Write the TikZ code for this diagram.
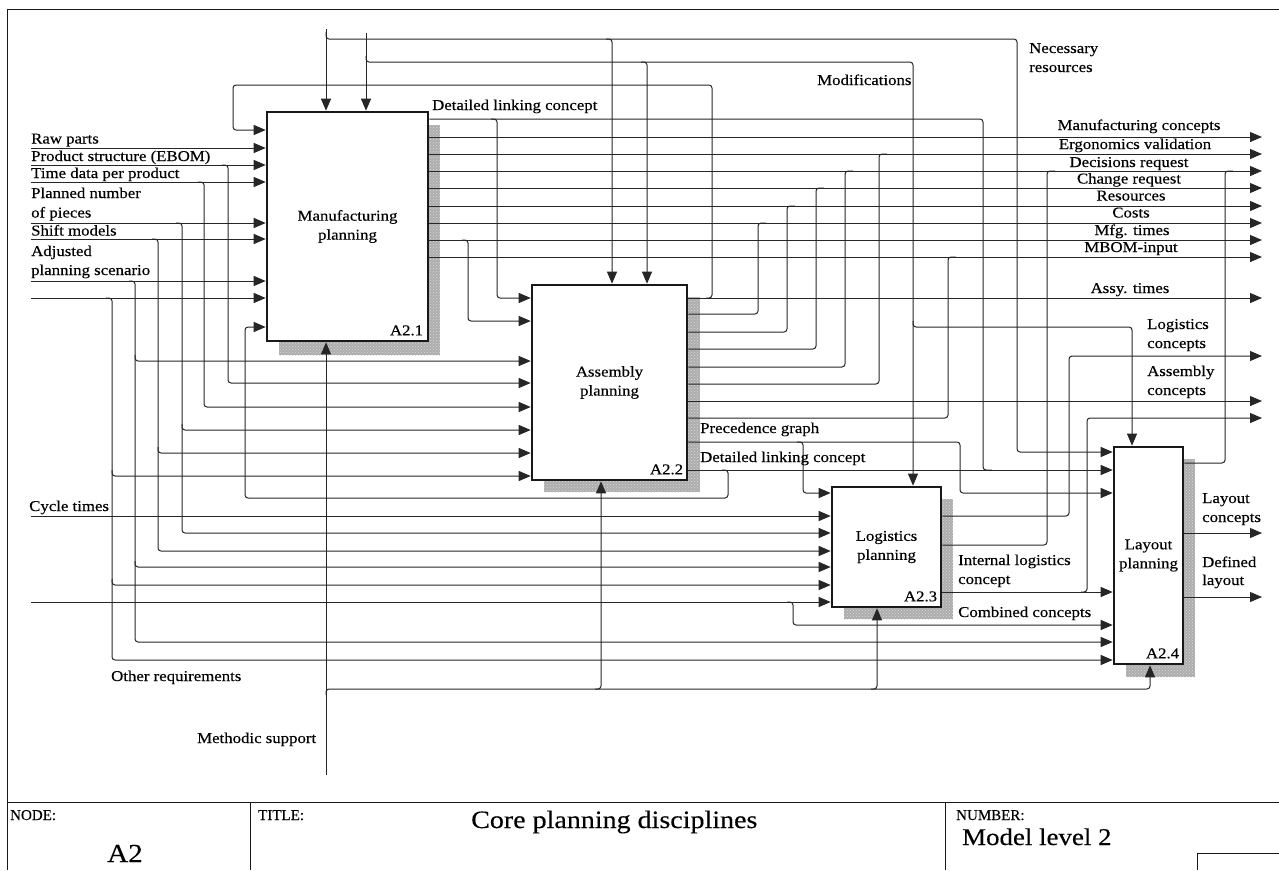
\documentclass[tikz,border=0pt]{standalone}
\usepackage{fontspec}
\setmainfont{Liberation Serif}[FakeStretch=1.12,FakeBold=0.3]
\newfontfamily\plainserif{Liberation Serif}[FakeBold=0.3]
\usetikzlibrary{arrows.meta,patterns}
\begin{document}
\begin{tikzpicture}[x=1pt,y=-1pt,
  font=\fontsize{15}{19}\selectfont,
  conn/.style={draw=black!85, line width=1pt, rounded corners=3pt},
  arr/.style={conn, -{Triangle[length=12pt,width=10pt]}},
  box/.style={draw=black!90, line width=2.6pt, fill=white, align=center, inner sep=0pt},
  shd/.style={fill=black!32},
  shdp/.style={pattern=crosshatch dots, pattern color=black!15},
  lbl/.style={inner sep=0pt, anchor=base west},
  clbl/.style={inner sep=0pt, anchor=base},
  frm/.style={draw=black!90, line width=1pt}]

\useasboundingbox (0,0) rectangle (1279,870);

% frame and title block
\draw[frm] (1279,9) -- (7,9) -- (7,870);
\draw[frm] (7,802) -- (1279,802);
\draw[frm] (250,802) -- (250,870);
\draw[frm] (945,802) -- (945,870);
\draw[frm] (1279,853) -- (1197,853) -- (1197,870);
\node[lbl, font=\plainserif\fontsize{15}{18}\selectfont] (tnode) at (10,820) {NODE:};
\node[clbl, font=\fontsize{26}{30}\selectfont] (tA2) at (125,862) {A2};
\node[lbl, font=\plainserif\fontsize{15}{18}\selectfont] (ttitle) at (258,820) {TITLE:};
\node[lbl, font=\fontsize{25}{29}\selectfont] (tcore) at (471,828) {Core planning disciplines};
\node[lbl, font=\plainserif\fontsize{15}{18}\selectfont] (tnum) at (956,820) {NUMBER:};
\node[lbl, font=\fontsize{24}{28}\selectfont] (tmodel) at (962,845) {Model level 2};

% shadows
\foreach \r in {{(279,125) rectangle (440,355)},{(544,297) rectangle (700,492)},
                {(844,499) rectangle (953,619)},{(1126,459) rectangle (1195,677)}}{
  \fill[shd] \r;
  \fill[shdp] \r;
}

% activity boxes
\node[box, minimum width=161pt, minimum height=229pt] (m) at (347.5,226.5) {Manufacturing\\planning};
\node[box, minimum width=155pt, minimum height=195pt] (a) at (609.5,382.5) {Assembly\\planning};
\node[box, minimum width=109pt, minimum height=120pt] (l) at (886.5,547) {Logistics\\planning};
\node[box, minimum width=69pt, minimum height=217pt] (y) at (1148.5,555.5) {Layout\\planning};
\node[inner sep=0pt, anchor=base east] (mid) at ([shift={(-6,-7)}]m.south east) {A2.1};
\node[inner sep=0pt, anchor=base east] (aid) at ([shift={(-5,-7)}]a.south east) {A2.2};
\node[inner sep=0pt, anchor=base east] (lid) at ([shift={(-5,-7)}]l.south east) {A2.3};
\node[inner sep=0pt, anchor=base east] (yid) at ([shift={(-5,-7)}]y.south east) {A2.4};

% free ends
\coordinate (inRaw) at (31,148);
\coordinate (inPS) at (31,165);
\coordinate (inTD) at (31,182);
\coordinate (inPN) at (31,223);
\coordinate (inSM) at (31,239);
\coordinate (inAP) at (31,281);
\coordinate (inX) at (31,298);
\coordinate (inCT) at (31,516);
\coordinate (inY) at (31,602);
\coordinate (cA) at (326,29);
\coordinate (cB) at (366,33);
\coordinate (mech) at (326,775);

% inputs to A2.1
\foreach \c in {inRaw,inPS,inTD,inPN,inSM,inAP,inX}
  \draw[arr] (\c) -- (m.west |- \c);
% inputs to A2.3 from the left border
\draw[arr] (inCT) -- (l.west |- inCT);
\draw[arr] (inY) -- (l.west |- inY);
\draw[arr] (787,602) -- (793,602) -- (793,625) -- (y.west |- 0,625);

% branches of the left inputs
\draw[arr] (222,165) -- (228,165) -- (228,383) -- (a.west |- 0,383);
\draw[arr] (198,182) -- (204,182) -- (204,407) -- (a.west |- 0,407);
\draw[arr] (176,223) -- (182,223) -- (182,533) -- (l.west |- 0,533);
\draw[arr] (182,424) -- (182,430) -- (a.west |- 0,430);
\draw[arr] (152,239) -- (158,239) -- (158,551) -- (l.west |- 0,551);
\draw[arr] (158,447) -- (158,453) -- (a.west |- 0,453);
\draw[arr] (129,281) -- (135,281) -- (135,642) -- (y.west |- 0,642);
\draw[arr] (135,355) -- (135,361) -- (a.west |- 0,361);
\draw[arr] (135,561) -- (135,567) -- (l.west |- 0,567);
\draw[arr] (106,298) -- (112,298) -- (112,660) -- (y.west |- 0,660);
\draw[arr] (112,470) -- (112,476) -- (a.west |- 0,476);
\draw[arr] (112,579) -- (112,585) -- (l.west |- 0,585);

% controls
\draw[arr] (cA) -- (m.north -| cA);
\draw[arr] (cB) -- (m.north -| cB);
\draw[arr] (326,32) -- (326,39) -- (1017,39) -- (1017,452) -- (y.west |- 0,452);
\draw[arr] (606,39) -- (612,39) -- (a.north -| 612,0);
\draw[arr] (366,56) -- (366,62) -- (913,62) -- (l.north -| 913,0);
\draw[arr] (641,62) -- (647,62) -- (a.north -| 647,0);
\draw[arr] (913,321) -- (913,327) -- (1132,327) -- (y.north -| 1132,0);

% mechanism
\draw[arr] (mech) -- (m.south -| mech);
\draw[arr] (326,695) -- (326,689) -- (1150,689) -- (y.south -| 1150,0);
\draw[arr] (595,689) -- (601,689) -- (a.south -| 601,0);
\draw[arr] (871,689) -- (877,689) -- (l.south -| 877,0);

% outputs of A2.1
\draw[conn] (m.east |- 0,119) -- (983,119) -- (983,470) -- (992,470);
\draw[arr] (491,119) -- (497,119) -- (497,298) -- (a.west |- 0,298);
\foreach \yy in {137,154,171,188,206,223,240,257}
  \draw[arr] (m.east |- 0,\yy) -- (1262,\yy);
\draw[arr] (462,240) -- (468,240) -- (468,321) -- (a.west |- 0,321);

% outputs of A2.2
\draw[arr] (a.east |- 0,298) -- (1262,298);
\draw[arr] (706,298) -- (712,298) -- (712,85) -- (233,85) -- (233,130) -- (m.west |- 0,130);
\draw[conn] (a.east |- 0,314) -- (758,314) -- (758,223) -- (766,223);
\draw[conn] (a.east |- 0,332) -- (787,332) -- (787,206) -- (795,206);
\draw[conn] (a.east |- 0,349) -- (816,349) -- (816,188) -- (824,188);
\draw[conn] (a.east |- 0,367) -- (845,367) -- (845,171) -- (853,171);
\draw[conn] (a.east |- 0,384) -- (879,384) -- (879,154) -- (887,154);
\draw[arr] (a.east |- 0,401) -- (1262,401);
\draw[conn] (a.east |- 0,418) -- (948,418) -- (948,257) -- (956,257);
\draw[arr] (a.east |- 0,442) -- (960,442) -- (960,493) -- (y.west |- 0,493);
\draw[arr] (797,442) -- (803,442) -- (803,493) -- (l.west |- 0,493);
\draw[arr] (a.east |- 0,470) -- (y.west |- 0,470);
\draw[arr] (722,470) -- (728,470) -- (728,498) -- (245,498) -- (245,327) -- (m.west |- 0,327);

% outputs of A2.3
\draw[arr] (l.east |- 0,516) -- (1069,516) -- (1069,356) -- (1262,356);
\draw[conn] (l.east |- 0,545) -- (1047,545) -- (1047,171) -- (1055,171);
\draw[arr] (l.east |- 0,592) -- (y.west |- 0,592);
\draw[arr] (1081,592) -- (1087,592) -- (1087,418) -- (1262,418);

% outputs of A2.4
\draw[conn] (y.east |- 0,463) -- (1225,463) -- (1225,171) -- (1233,171);
\draw[arr] (y.east |- 0,533) -- (1262,533);
\draw[arr] (y.east |- 0,597) -- (1262,597);

% labels left
\node[lbl] (l1) at (31,143.5) {Raw parts};
\node[lbl] (l2) at (31,161) {Product structure (EBOM)};
\node[lbl] (l3) at (31,178) {Time data per product};
\node[lbl] (l4) at (31,198) {Planned number};
\node[lbl] (l5) at (31,217.5) {of pieces};
\node[lbl] (l6) at (31,235.5) {Shift models};
\node[lbl] (l7) at (31,256) {Adjusted};
\node[lbl] (l8) at (31,275) {planning scenario};
\node[lbl] (l9) at (29,511) {Cycle times};
\node[lbl] (l10) at (111,681) {Other requirements};
\node[lbl] (l11) at (197,743) {Methodic support};

% labels top and middle
\node[lbl] (t1) at (432,110) {Detailed linking concept};
\node[lbl] (t2) at (817,85) {Modifications};
\node[lbl] (t3) at (1029,53) {Necessary};
\node[lbl] (t4) at (1029,72) {resources};
\node[lbl] (t5) at (700,433) {Precedence graph};
\node[lbl] (t6) at (700,462) {Detailed linking concept};
\node[lbl] (t7) at (958,565) {Internal logistics};
\node[lbl] (t8) at (958,584) {concept};
\node[lbl] (t9) at (958,617) {Combined concepts};

% labels right
\node[clbl] (r1) at (1139,130) {Manufacturing concepts};
\node[clbl] (r2) at (1135,149) {Ergonomics validation};
\node[clbl] (r3) at (1129,167) {Decisions request};
\node[clbl] (r4) at (1129,183.5) {Change request};
\node[clbl] (r5) at (1131,200.5) {Resources};
\node[clbl] (r6) at (1131,217.5) {Costs};
\node[clbl] (r7) at (1132,235) {Mfg. times};
\node[clbl] (r8) at (1131,252) {MBOM-input};
\node[clbl] (r9) at (1130,293) {Assy. times};
\node[lbl] (r10) at (1147,329) {Logistics};
\node[lbl] (r11) at (1147,348) {concepts};
\node[lbl] (r12) at (1147,376) {Assembly};
\node[lbl] (r13) at (1147,395) {concepts};
\node[lbl] (r14) at (1202,503) {Layout};
\node[lbl] (r15) at (1202,522) {concepts};
\node[lbl] (r16) at (1202,567) {Defined};
\node[lbl] (r17) at (1202,585) {layout};
\end{tikzpicture}
\end{document}
